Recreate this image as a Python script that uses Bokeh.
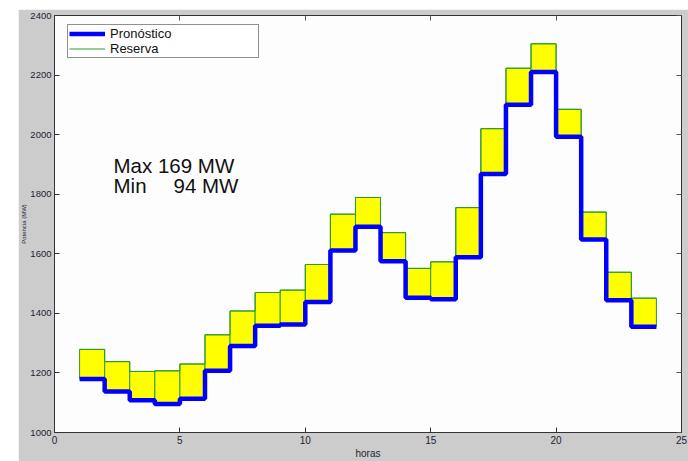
from bokeh.plotting import figure
from bokeh.models import Range1d, LinearAxis, FixedTicker, Legend, LegendItem, Label
from bokeh.embed import file_html
from bokeh.resources import INLINE

# ---- data ----
hours = list(range(1, 24))  # each value holds from hour h to h+1
pronostico = [1180, 1138, 1108, 1096, 1113, 1207, 1290, 1358, 1363, 1438,
              1611, 1691, 1575, 1452, 1447, 1588, 1868, 2100, 2210, 1993,
              1648, 1444, 1355]
reserva = [1279, 1238, 1205, 1207, 1230, 1328, 1408, 1470, 1478, 1564,
           1733, 1789, 1671, 1551, 1573, 1755, 2020, 2223, 2305, 2085,
           1740, 1538, 1451]
x_ticks = [0, 5, 10, 15, 20, 25]
y_ticks = [1000, 1200, 1400, 1600, 1800, 2000, 2200, 2400]
info_max = "Max 169 MW"
info_min_label = "Min"
info_min_value = "94 MW"

GRAY = "#cccccc"
FONT = "Liberation Sans"
TXT = "#222233"

p = figure(width=670, height=452,
           x_range=Range1d(0, 25), y_range=Range1d(1000, 2400),
           output_backend="svg", toolbar_location=None,
           min_border_left=36, min_border_right=7,
           min_border_top=6, min_border_bottom=28)
p.margin = (9, 0, 0, 18)
p.border_fill_color = GRAY
p.background_fill_color = "#fdfdfd"
p.outline_line_color = "#333333"
p.xgrid.visible = False
p.ygrid.visible = False

# yellow reserve band, one patch per hour with green edges
p.quad(left=hours, right=[h + 1 for h in hours], bottom=pronostico, top=reserva,
       fill_color="#ffff00", line_color="#2f9a2f", line_width=1)

x_step = hours + [hours[-1] + 1]
r_res = p.step(x_step, reserva + [reserva[-1]], mode="after",
               line_color="#2f9a2f", line_width=1)
r_pro = p.step(x_step, pronostico + [pronostico[-1]], mode="after",
               line_color="#0000ff", line_width=4.5)

for ax, ticks in ((p.xaxis[0], x_ticks), (p.yaxis[0], y_ticks)):
    ax.ticker = FixedTicker(ticks=ticks)
    ax.major_tick_in = 5
    ax.major_tick_out = 0
    ax.minor_tick_line_color = None
    ax.axis_line_color = "#333333"
    ax.major_tick_line_color = "#333333"
    ax.major_label_text_font = FONT
    ax.major_label_text_font_size = "10px"
    ax.major_label_text_color = TXT

p.xaxis[0].major_label_standoff = 3
p.xaxis[0].axis_label = "horas"
p.xaxis[0].axis_label_text_font = FONT
p.xaxis[0].axis_label_text_font_size = "10px"
p.xaxis[0].axis_label_text_font_style = "normal"
p.xaxis[0].axis_label_text_color = TXT
p.xaxis[0].axis_label_standoff = 1

p.yaxis[0].major_label_text_font_size = "9.5px"
p.yaxis[0].major_label_standoff = 3
p.yaxis[0].axis_label = "Potencia (MW)"
p.yaxis[0].axis_label_text_font = FONT
p.yaxis[0].axis_label_text_font_size = "6px"
p.yaxis[0].axis_label_text_font_style = "normal"
p.yaxis[0].axis_label_text_color = TXT
p.yaxis[0].axis_label_standoff = 0

top_ax = LinearAxis(ticker=FixedTicker(ticks=x_ticks),
                    major_label_overrides={t: "" for t in x_ticks})
right_ax = LinearAxis(ticker=FixedTicker(ticks=y_ticks),
                      major_label_overrides={t: "" for t in y_ticks})
for ax in (top_ax, right_ax):
    ax.major_tick_in = 5
    ax.major_tick_out = 0
    ax.minor_tick_line_color = None
    ax.axis_line_color = "#333333"
    ax.major_tick_line_color = "#555555"
    ax.major_label_standoff = 0
    ax.major_label_text_font_size = "1px"
p.add_layout(top_ax, "above")
p.add_layout(right_ax, "right")

legend = Legend(items=[LegendItem(label="Pronóstico", renderers=[r_pro]),
                       LegendItem(label="Reserva", renderers=[r_res])],
                location=(13, 374), orientation="vertical",
                padding=1, spacing=0, margin=0,
                glyph_width=36, glyph_height=15, label_height=15,
                label_width=147, label_standoff=5,
                label_text_font=FONT, label_text_font_size="13px",
                label_text_color="#111111",
                border_line_color="#222222", border_line_width=1,
                background_fill_color="#ffffff", background_fill_alpha=1)
p.add_layout(legend, "center")

for txt, x, y in [(info_max, 2.353, 1895), (info_min_label, 2.353, 1829),
                  (info_min_value, 4.745, 1829)]:
    p.add_layout(Label(x=x, y=y, text=txt, text_font=FONT,
                       text_font_size="20.5px", text_color="#111111",
                       text_baseline="middle"))

open("out.html", "w").write(file_html(p, INLINE))
